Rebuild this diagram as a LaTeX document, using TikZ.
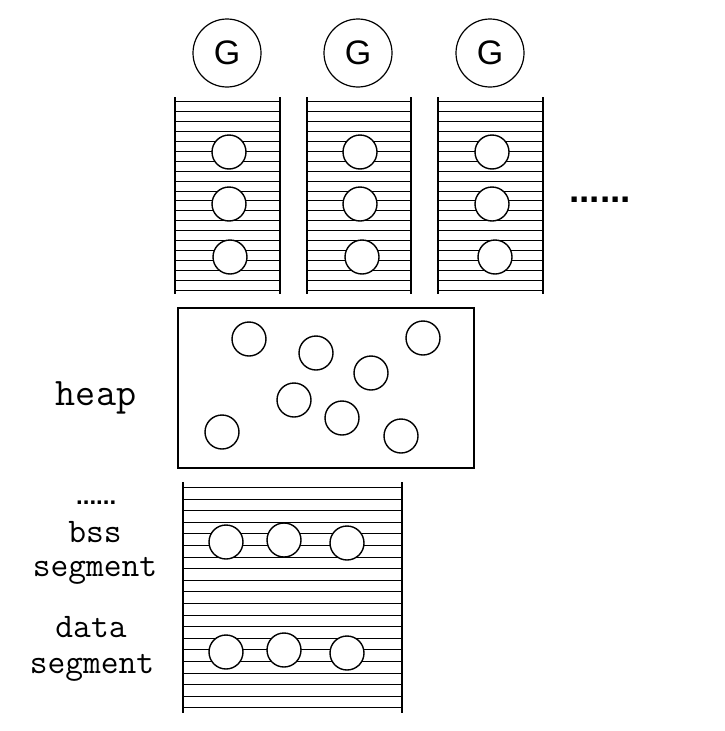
\documentclass[tikz,border=0pt]{standalone}
\usepackage{fontspec}
\newfontfamily\sansf{Liberation Sans}
\begin{document}
\begin{tikzpicture}[x=1pt,y=-1pt,
  rung/.style={line width=1.5pt},
  rail/.style={line width=1.7pt},
  obj/.style={circle,draw,fill=white,line width=1.4pt,minimum size=34pt,inner sep=0pt},
  gnode/.style={circle,draw,line width=1.2pt,minimum size=68pt,inner sep=0pt,font=\sansf\fontsize{34}{34}\selectfont},
  lbl/.style={anchor=base,inner sep=0pt,font=\ttfamily\fontsize{34.5}{34.5}\selectfont},
  dots/.style={anchor=base west,inner sep=0pt},
  area/.style={draw=none,inner sep=0pt,outer sep=0pt}]
\useasboundingbox (0,0) rectangle (724,731);

% goroutine stacks
\foreach \n/\xa/\xb in {1/175/280, 2/307/411, 3/438/543}{
  \node[area,minimum width={\xb-\xa},minimum height=197pt] (st\n) at ({(\xa+\xb)/2},195.5) {};
  \foreach \i in {0,...,19}
    \draw[rung] (st\n.west |- 0,{round(101+9.95*\i)+0.5}) -- (st\n.east |- 0,{round(101+9.95*\i)+0.5});
  \draw[rail] (st\n.north west) -- (st\n.south west);
  \draw[rail] (st\n.north east) -- (st\n.south east);
}
\node[obj] (s1a) at (229,152) {};
\node[obj] (s1b) at (229,204) {};
\node[obj] (s1c) at (230,257) {};
\node[obj] (s2a) at (360,152) {};
\node[obj] (s2b) at (360,204) {};
\node[obj] (s2c) at (362,257) {};
\node[obj] (s3a) at (492,152) {};
\node[obj] (s3b) at (492,204) {};
\node[obj] (s3c) at (495,257) {};

\node[gnode] (g1) at (227,53) {G};
\node[gnode] (g2) at (358,53) {G};
\node[gnode] (g3) at (490,53) {G};

\node[dots,font=\sansf\bfseries\fontsize{37}{37}\selectfont] (more) at (569,202.5) {......};

% heap
\node[draw,line width=1.5pt,minimum width=296pt,minimum height=160pt,inner sep=0pt] (heapbox) at (326,388) {};
\node[obj] (h1) at (249,339) {};
\node[obj] (h2) at (316,353) {};
\node[obj] (h3) at (423,338) {};
\node[obj] (h4) at (371,373) {};
\node[obj] (h5) at (294,400) {};
\node[obj] (h6) at (342,418) {};
\node[obj] (h7) at (222,432) {};
\node[obj] (h8) at (401,436) {};
\node[lbl,font=\ttfamily\fontsize{39}{39}\selectfont] (heap) at (96,405) {heap};

% data / bss
\node[area,minimum width=219pt,minimum height=231pt] (seg) at (292.5,597.5) {};
\foreach \i in {0,...,19}
  \draw[rung] (seg.west |- 0,{round(487+11.6*\i)+0.5}) -- (seg.east |- 0,{round(487+11.6*\i)+0.5});
\draw[rail] (seg.north west) -- (seg.south west);
\draw[rail] (seg.north east) -- (seg.south east);
\node[obj] (b1) at (226,542) {};
\node[obj] (b2) at (284,540) {};
\node[obj] (b3) at (347,543) {};
\node[obj] (d1) at (226,652) {};
\node[obj] (d2) at (284,650) {};
\node[obj] (d3) at (347,653) {};

\node[dots,font=\sansf\bfseries\fontsize{24}{24}\selectfont] (moreseg) at (76,504) {......};
\node[lbl] (bss) at (95,542) {bss};
\node[lbl] (bssseg) at (95,576) {segment};
\node[lbl] (data) at (91,637) {data};
\node[lbl] (dataseg) at (92,673) {segment};
\end{tikzpicture}
\end{document}
